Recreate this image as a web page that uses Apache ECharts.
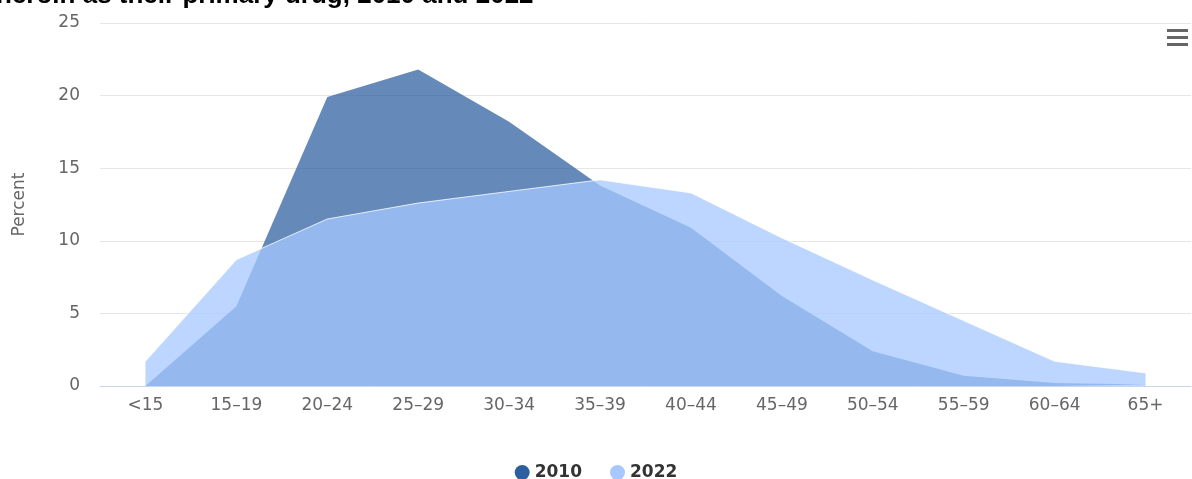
<!DOCTYPE html>
<html>
<head>
<meta charset="utf-8">
<script src="https://cdn.jsdelivr.net/npm/echarts@6/dist/echarts.min.js"></script>
<style>html,body{margin:0;padding:0;background:#fff}#c{width:1192px;height:479px}</style>
</head>
<body>
<div id="c"></div>
<script>
const titleText = 'heroin as their primary drug, 2010 and 2022';
const categories = ['<15','15–19','20–24','25–29','30–34','35–39','40–44','45–49','50–54','55–59','60–64','65+'];
const seriesNames = ['2010','2022'];
const values2010 = [0, 5.5, 19.9, 21.8, 18.2, 13.8, 10.9, 6.2, 2.4, 0.7, 0.2, 0.1];
const values2022 = [1.7, 8.7, 11.5, 12.6, 13.4, 14.2, 13.3, 10.2, 7.3, 4.5, 1.7, 0.9];
const yTicks = {min: 0, max: 25, interval: 5};
const yName = 'Percent';

const chart = echarts.init(document.getElementById('c'), null, {renderer: 'canvas'});
const FONT = 'DejaVu Sans';
chart.setOption({
  animation: false,
  backgroundColor: '#ffffff',
  graphic: [
    {type: 'text', x: -4, y: 9, style: {text: titleText, font: 'bold 26px "Liberation Sans"', fill: '#000', verticalAlign: 'bottom', align: 'left'}},
    {type: 'rect', shape: {x: 1167, y: 29, width: 21, height: 3}, style: {fill: '#666'}},
    {type: 'rect', shape: {x: 1167, y: 36, width: 21, height: 3}, style: {fill: '#666'}},
    {type: 'rect', shape: {x: 1167, y: 43, width: 21, height: 3}, style: {fill: '#666'}}
  ],
  grid: {left: 100, right: 1, top: 23, bottom: 93, containLabel: false},
  legend: {
    top: 459, left: 'center', icon: 'circle', itemWidth: 15, itemHeight: 15, itemGap: 28,
    textStyle: {fontFamily: FONT, fontWeight: 'bold', fontSize: 17, color: '#333'},
    data: seriesNames
  },
  xAxis: {
    type: 'category', data: categories, boundaryGap: true,
    axisLine: {lineStyle: {color: '#ccd6eb'}},
    axisTick: {show: false},
    axisLabel: {fontFamily: FONT, fontSize: 17, color: '#666', margin: 11, interval: 0}
  },
  yAxis: {
    type: 'value', min: yTicks.min, max: yTicks.max, interval: yTicks.interval,
    name: yName, nameLocation: 'middle', nameGap: 72, nameRotate: 90,
    nameTextStyle: {fontFamily: FONT, fontSize: 17, color: '#666'},
    axisLine: {show: false}, axisTick: {show: false},
    splitLine: {lineStyle: {color: '#e6e6e6'}},
    axisLabel: {fontFamily: FONT, fontSize: 17, color: '#666', margin: 20}
  },
  series: [
    {name: seriesNames[0], type: 'line', data: values2010, symbol: 'none', color: '#2c5ea0',
     lineStyle: {width: 0}, areaStyle: {color: '#2c5ea0', opacity: 0.73}},
    {name: seriesNames[1], type: 'line', data: values2022, symbol: 'none', color: '#a6c8ff',
     lineStyle: {width: 1, color: 'rgba(255,255,255,0.8)'}, areaStyle: {color: '#a6c8ff', opacity: 0.75}}
  ]
});
</script>
</body>
</html>
